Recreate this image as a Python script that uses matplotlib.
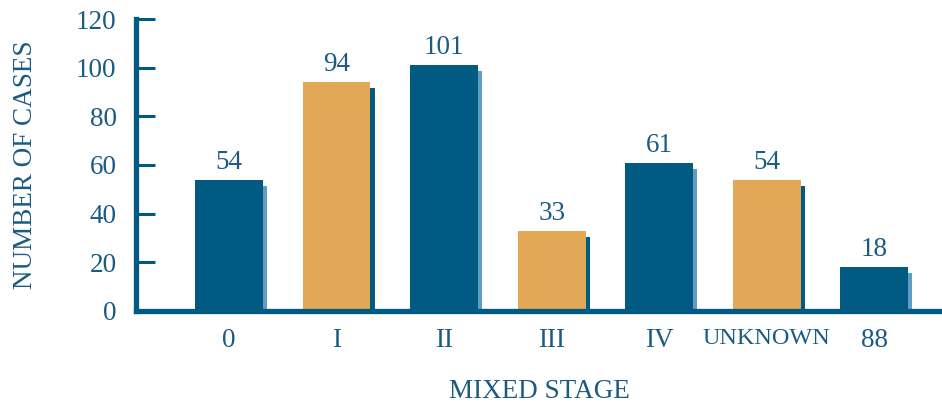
import matplotlib
matplotlib.use("Agg")
import matplotlib.pyplot as plt
import numpy as np

stages = ["0", "I", "II", "III", "IV", "UNKNOWN", "88"]
cases = [54, 94, 101, 33, 61, 54, 18]
is_orange = [False, True, False, True, False, True, False]

BLUE = "#005a82"
ORANGE = "#e3a855"
LIGHT_BLUE = "#5f9dc2"
TEXT = "#1a5b82"

plt.rcParams["font.family"] = ["Liberation Serif", "DejaVu Serif"]

fig = plt.figure(figsize=(9.42, 4.07), dpi=100)
ax = fig.add_axes([0.1444, 0.2359, 0.8556, 0.7174])

x = np.arange(len(stages))
width = 0.63
for xi, v, orange in zip(x, cases, is_orange):
    face = ORANGE if orange else BLUE
    shadow = BLUE if orange else LIGHT_BLUE
    # offset shadow bar behind the main bar
    ax.bar(xi + 0.04, v - 2.5, width=width, color=shadow, zorder=1)
    ax.bar(xi, v, width=width, color=face, zorder=2)
    ax.text(xi, v + 2.0, str(v), ha="center", va="bottom",
            fontsize=19.5, color=TEXT)

ax.set_xlim(-0.865, 6.63)
ax.set_ylim(0, 120)
ax.set_yticks(range(0, 121, 20))
ax.set_xticks(x)
ax.set_xticklabels(stages)

for side in ["top", "right"]:
    ax.spines[side].set_visible(False)
for side in ["left", "bottom"]:
    ax.spines[side].set_color(BLUE)
    ax.spines[side].set_linewidth(3.8)
    ax.spines[side].set_zorder(3)

ax.tick_params(axis="y", direction="in", length=14, width=2.2, color=BLUE,
               labelsize=19.5, labelcolor=TEXT, pad=14)
ax.tick_params(axis="x", length=0, labelsize=19.5, labelcolor=TEXT, pad=12)
for lbl in ax.get_xticklabels():
    if lbl.get_text() == "UNKNOWN":
        lbl.set_fontsize(17.5)

ax.set_ylabel("NUMBER OF CASES", fontsize=19.5, color=TEXT, labelpad=27)
ax.set_xlabel("MIXED STAGE", fontsize=19.5, color=TEXT, labelpad=19)

fig.savefig("out.png", dpi=100)
